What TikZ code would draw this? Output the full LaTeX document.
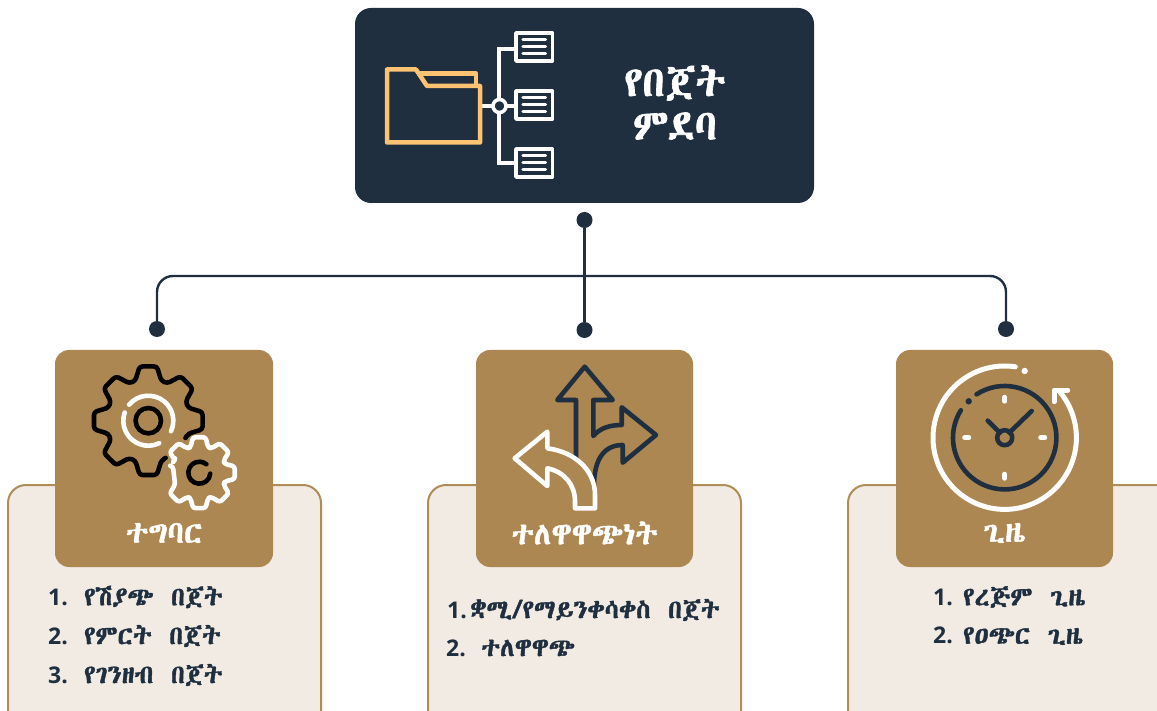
\documentclass[tikz,border=0pt]{standalone}
\usepackage{fontspec}
\newfontfamily\ethfont[Script=Ethiopic,FakeBold=1.5,WordSpace=1.5]{Abyssinica SIL}
\newfontfamily\numfont{Open Sans}
\definecolor{navy}{HTML}{1F2F40}
\definecolor{tan}{HTML}{AC8751}
\definecolor{cream}{HTML}{F2EBE4}
\definecolor{cborder}{HTML}{B08D57}
\definecolor{folder}{HTML}{FDC272}
\tikzset{
 x=1pt,y=-1pt,
 card/.style={draw=cborder,line width=2pt,fill=cream,rounded corners=18pt},
 tile/.style={fill=tan,rounded corners=14pt},
 wire/.style={draw=navy,line width=2.4pt},
 dot/.style={circle,fill=navy,inner sep=0pt,minimum size=16pt},
 iconw/.style={draw=white,line width=4.6pt,line cap=round,line join=round},
 iconk/.style={draw=black,line width=4.6pt,line cap=round,line join=round},
 iconn/.style={draw=navy,line width=4.6pt,line cap=round,line join=round},
 tilelabel/.style={text=white,font=\ethfont\fontsize{31}{34}\selectfont,inner sep=0pt},
 title/.style={text=white,font=\ethfont\fontsize{42}{46}\selectfont,inner sep=0pt},
 item/.style={text=navy,font=\ethfont\fontsize{26}{30}\selectfont,inner sep=0pt,anchor=west},
 docbox/.style={draw=white,line width=3.6pt,line join=round},
 docline/.style={draw=white,line width=3.2pt,line cap=round},
}
\newcommand\nm[2][36pt]{\makebox[#1][l]{\numfont\bfseries\fontsize{23}{26}\selectfont #2}}
\newcommand\docicon[1]{
 \draw[docbox] (516,#1-15) rectangle (552.5,#1+13);
 \draw[docline] (523,#1-8.5) -- (545.5,#1-8.5) (523,#1-1.5) -- (545.5,#1-1.5) (523,#1+5.5) -- (545.5,#1+5.5);
}
\begin{document}
\begin{tikzpicture}
\path[use as bounding box] (0,0) rectangle (1157,711);
\begin{scope}
\clip (0,0) rectangle (1157,711);
\draw[card] (8,485) rectangle (321,740);
\draw[card] (428,485) rectangle (741,740);
\draw[card] (848,485) rectangle (1175,740);
\end{scope}
\fill[tile] (55,350) rectangle (273,567);
\fill[tile] (476,350) rectangle (693,567);
\fill[tile] (896,350) rectangle (1113,567);
\fill[navy,rounded corners=16pt] (355,8) rectangle (814,203);
% connectors
\node[dot] (top) at (584.5,220) {};
\node[dot] (dl) at (157,329) {};
\node[dot] (dm) at (584.5,330) {};
\node[dot] (dr) at (1006,329) {};
\coordinate (jl) at (157,276);
\coordinate (jr) at (1006,276);
\draw[wire] (top) -- (dm);
\draw[wire,rounded corners=16pt] (dl) -- (jl) -- (jr) -- (dr);
% folder icon
\draw[draw=white,line width=3.6pt] (480,106) -- (499,106) (499,49) -- (499,163) (497.2,49) -- (516,49) (499,106) -- (516,106) (497.2,163) -- (516,163);
\draw[draw=folder,line width=4.5pt,line join=round] (387,69.5) -- (416,69.5) -- (427,86) -- (480,86) -- (480,142.5) -- (387,142.5) -- cycle;
\draw[draw=folder,line width=4.5pt,line join=round] (418,73.5) -- (476,73.5) -- (476,86);
\draw[draw=white,line width=3.6pt,fill=navy] (499.5,106) circle (6.5);
\docicon{48}\docicon{106}\docicon{164}
\node[title] (t1) at (675,83) {የበጀት};
\node[title] (t2) at (675,126) {ምደባ};
% gears
\begin{scope}[shift={(148.3,420.7)}]
 \draw[iconk,rounded corners=3pt] (25:41) -- (18:42) -- (9:55) -- (-9:55) -- (-18:42)
  \foreach \a in {-45,-90,...,-270} { -- (\a+18:42) -- (\a+9:55) -- (\a-9:55) -- (\a-18:42) } -- (65:41);
 \draw[iconk] (0,0) circle (12.7);
 \draw[iconw] (220:25) arc[start angle=220,end angle=385,radius=25];
 \draw[iconw] (64:25) arc[start angle=64,end angle=199,radius=25];
\end{scope}
\begin{scope}[shift={(199.3,472.7)}]
 \draw[iconw,rounded corners=2.5pt] (203:28) -- (206:27)
  \foreach \a in {225,270,...,495} { -- (\a-19:27) -- (\a-10:36) -- (\a+10:36) -- (\a+19:27) } -- (553:27) -- (553.5:30) ;
 \draw[iconk] (5:11) arc[start angle=5,end angle=310,radius=11];
\end{scope}
\node[tilelabel] (l1) at (164,533) {ተግባር};
% arrows
\draw[iconn] (576,458) -- (576,400) -- (557.3,400) -- (584.7,366.7) -- (612.7,400) -- (593.3,400) -- (593.3,436) .. controls (600,428) and (610,425) .. (621.7,425) -- (621.7,407.3) -- (656,435) -- (622.7,462.7) -- (622.7,445) .. controls (605,445) and (594,458) .. (594,486);
\draw[iconw] (514.7,458.3) -- (547.3,431.7) -- (547.3,448.3) .. controls (575,452) and (595,470) .. (595,495) -- (595,508.3) -- (575,508.3) -- (575,501.7) .. controls (575,485) and (565,472) .. (547.3,468.3) -- (547.3,486) -- cycle;
\node[tilelabel] (l2) at (584.5,533) {ተለዋዋጭነት};
% clock
\begin{scope}[shift={(1004.7,437.7)}]
 \draw[iconn] (237:51.7) arc[start angle=237,end angle=572,radius=51.7];
 \fill[navy] (-36,-36.4) circle (3.2);
 \draw[iconn] (0,0) circle (7.5);
 \draw[iconn] (4.6,-5) -- (27,-26.7);
 \draw[iconn] (-4.7,-5) -- (-17,-17);
 \draw[draw=white,line width=5pt,line cap=round] (0,-40.5) -- (0,-36.5) (0,36.5) -- (0,40.5) (-40,0) -- (-36,0) (36,0) -- (40,0);
 \draw[iconw,line width=5pt] (278.5:71.7) arc[start angle=278.5,end angle=-39.6,radius=71.7];
 \draw[iconw,line width=5pt] (63,-47.7) -- (49.3,-47.7) -- (49.3,-36);
 \fill[white] (20,-66.7) circle (3.2);
\end{scope}
\node[tilelabel] (l3) at (1004.5,533) {ጊዜ};
% lists
\node[item] (a1) at (48,597) {\nm{1.}የሽያጭ በጀት};
\node[item] (a2) at (48,636) {\nm{2.}የምርት በጀት};
\node[item] (a3) at (48,675) {\nm{3.}የገንዘብ በጀት};
\node[item] (b1) at (447,610) {\nm[23pt]{1.}ቋሚ/የማይንቀሳቀስ በጀት};
\node[item] (b2) at (446,648) {\nm[35pt]{2.}ተለዋዋጭ};
\node[item] (c1) at (933,597) {\nm[30pt]{1.}የረጅም ጊዜ};
\node[item] (c2) at (933,636) {\nm[30pt]{2.}የዐጭር ጊዜ};
\end{tikzpicture}
\end{document}
